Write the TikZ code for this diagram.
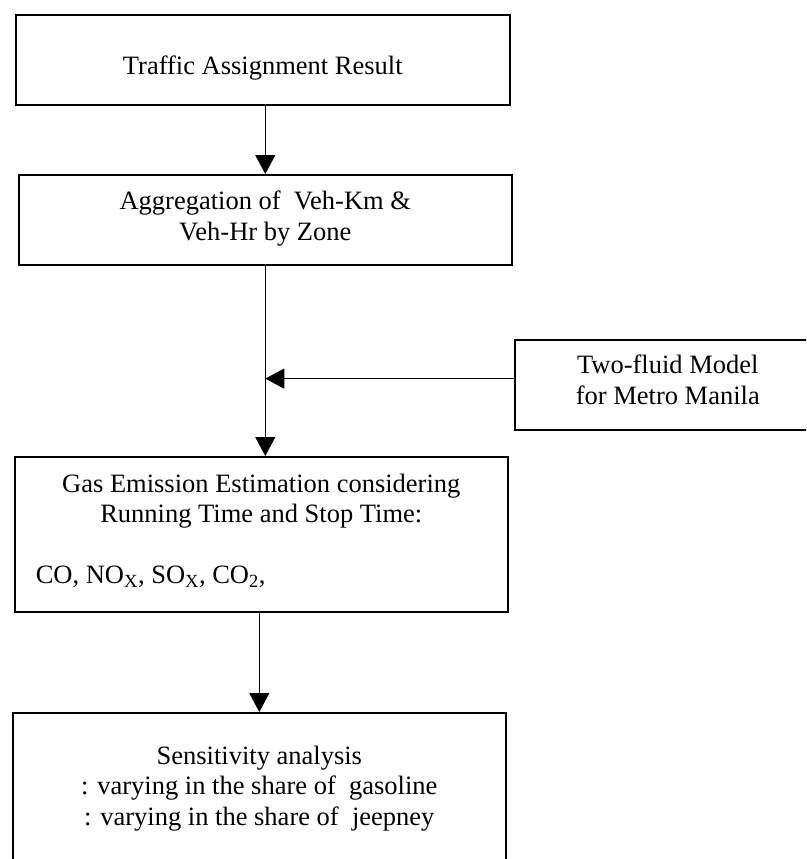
\documentclass[tikz,border=0pt]{standalone}
\usepackage{fontspec}
\setmainfont{Liberation Serif}
\usetikzlibrary{arrows.meta}
\begin{document}
\begin{tikzpicture}[x=1pt,y=-1pt,
  box/.style={draw, line width=1.6pt, inner sep=0pt, anchor=north west,
    font=\fontsize{26.5pt}{30.5pt}\selectfont},
  conn/.style={line width=1.3pt, -{Triangle[width=20pt,length=19pt]}}]
\path[use as bounding box] (0,0) rectangle (806,859);
\clip (0,0) rectangle (806,859);
\node[box] (b1) at (15,14) {\parbox[c][90pt][t]{494pt}{\vspace*{38pt}\centering\strut Traffic Assignment Result}};
\node[box] (b2) at (18,174) {\parbox[c][90pt][t]{493pt}{\vspace*{13.6pt}\centering\strut Aggregation of\ \ Veh-Km \&\\\strut Veh-Hr by Zone}};
\node[box] (b5) at (514,339) {\parbox[c][90pt][t]{306pt}{\vspace*{12.6pt}\centering\strut Two-fluid Model\\\strut for Metro Manila}};
\node[box] (b3) at (14,456) {\parbox[c][155pt][t]{493pt}{\vspace*{14pt}{\centering\strut Gas Emission Estimation considering\\\strut Running Time and Stop Time:\par}\vspace{30.5pt}\raggedright\hspace*{21pt}\strut CO, NO\textsubscript{X}, SO\textsubscript{X}, CO\textsubscript{2},\par}};
\node[box] (b4) at (12,712) {\parbox[c][200pt][t]{493pt}{\vspace*{30pt}\centering\strut Sensitivity analysis\\\strut : varying in the share of\ \ gasoline\\\strut : varying in the share of\ \ jeepney}};
\path (b2.south) ++(0,113) coordinate (j);
\draw[conn] (b2.north |- b1.south) -- (b2.north);
\draw[conn] (b2.south) -- (b2.south |- b3.north);
\draw[conn] (b5.west |- j) -- (j);
\draw[conn] (b4.north |- b3.south) -- (b4.north);
\end{tikzpicture}
\end{document}
